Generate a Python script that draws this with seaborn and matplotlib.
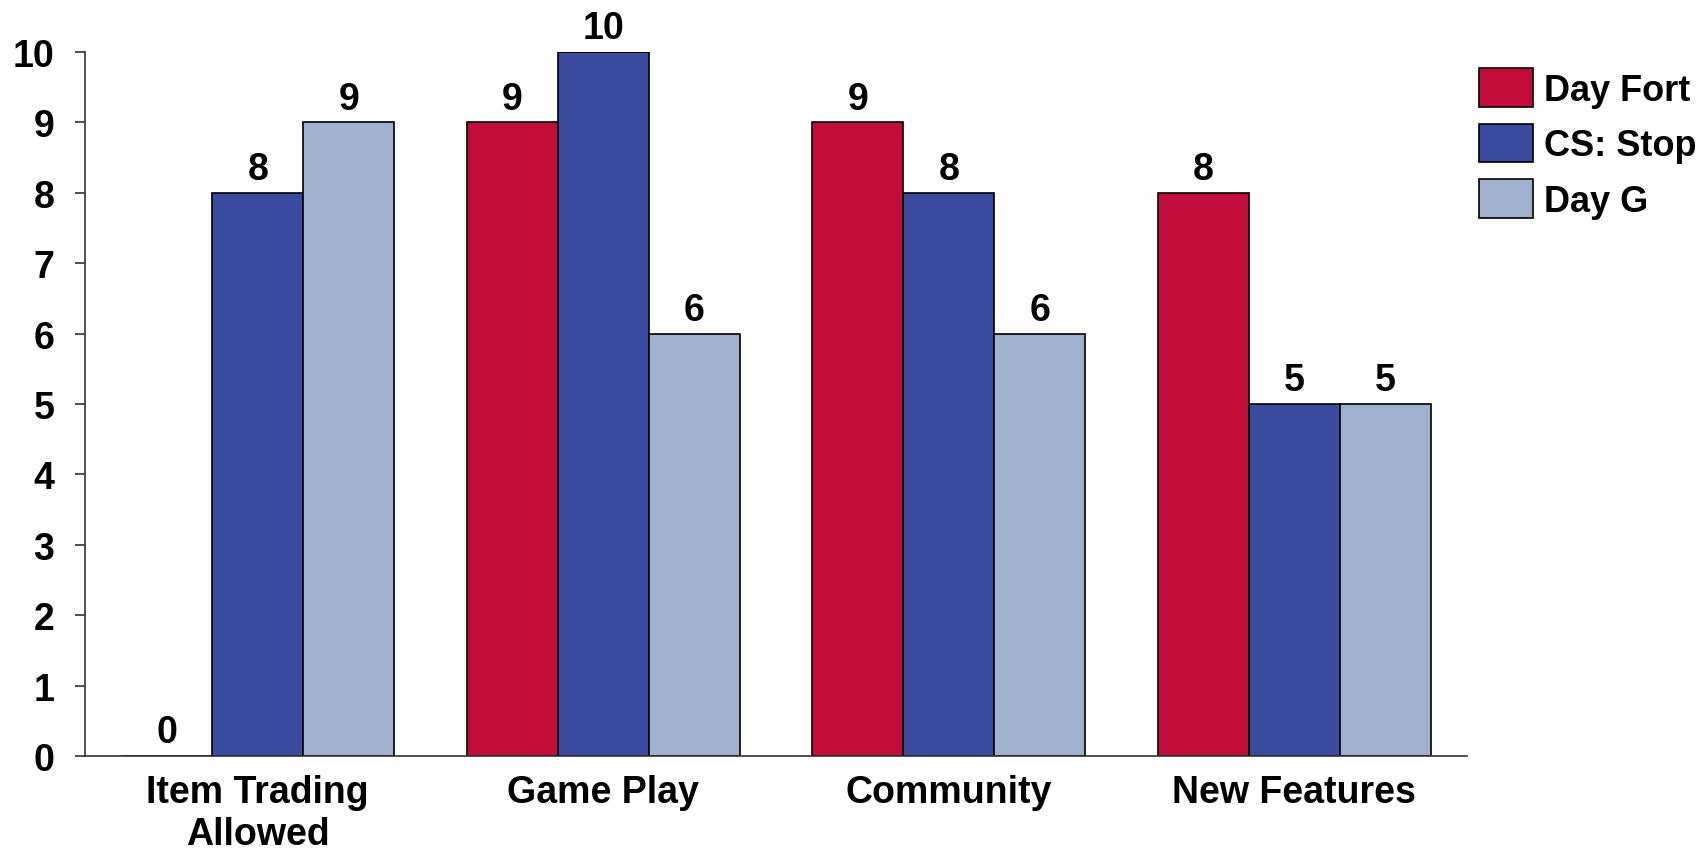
import matplotlib
matplotlib.use("Agg")
import matplotlib.pyplot as plt
import seaborn as sns
import pandas as pd

categories = ["Item Trading\nAllowed", "Game Play", "Community", "New Features"]
series_names = ["Day Fort", "CS: Stop", "Day G"]
day_fort = [0, 9, 9, 8]
cs_stop = [8, 10, 8, 5]
day_g = [9, 6, 6, 5]
colors = ["#C20D3B", "#3B4BA0", "#A0B1CE"]
y_ticks = list(range(0, 11))

rows = []
for name, vals in zip(series_names, [day_fort, cs_stop, day_g]):
    for c, v in zip(categories, vals):
        rows.append({"category": c, "series": name, "value": v})
df = pd.DataFrame(rows)

sns.set_theme(style="white")
plt.rcParams["font.family"] = ["Liberation Sans", "DejaVu Sans"]
plt.rcParams["font.weight"] = "bold"
plt.rcParams["text.color"] = "black"
plt.rcParams["xtick.color"] = "black"
plt.rcParams["ytick.color"] = "black"

FS = 27

fig = plt.figure(figsize=(17.04, 8.53), dpi=100)
ax = fig.add_axes([0.0499, 0.1125, 0.861 - 0.0499, 0.9379 - 0.1125])

sns.barplot(data=df, x="category", y="value", hue="series", hue_order=series_names,
            order=categories, palette=colors, width=0.79, edgecolor="black",
            linewidth=1.2, saturation=1, ax=ax)

for cont in ax.containers:
    ax.bar_label(cont, fmt="%d", padding=4, fontsize=FS, fontweight="bold", color="black")

ax.set_ylim(0, 10)
ax.set_xlim(-0.5, len(categories) - 0.5)
ax.set_yticks(y_ticks)
ax.set_yticklabels([str(t) for t in y_ticks], fontsize=FS, fontweight="bold", color="black")
ax.tick_params(axis="y", which="major", direction="out", length=7, width=1.2,
               color="#333333", pad=15, left=True, labelcolor="black")
ax.tick_params(axis="x", length=0, pad=13, labelsize=FS, labelcolor="black")
for lab in ax.get_xticklabels():
    lab.set_fontweight("bold")
    lab.set_linespacing(1.22)
ax.set_xlabel("")
ax.set_ylabel("")
for s in ["top", "right"]:
    ax.spines[s].set_visible(False)
for s in ["left", "bottom"]:
    ax.spines[s].set_color("#333333")
    ax.spines[s].set_linewidth(1.2)

ax.legend_.remove()
handles, labels = ax.get_legend_handles_labels()
leg = fig.legend(handles, labels, loc="upper left", bbox_to_anchor=(0.868, 0.919),
                 frameon=False, borderpad=0, borderaxespad=0,
                 handlelength=1.48, handleheight=1.27, labelspacing=0.45,
                 handletextpad=0.33, prop={"weight": "bold", "size": 26})
for t in leg.get_texts():
    t.set_color("black")
for p in leg.get_patches():
    p.set_edgecolor("black")
    p.set_linewidth(1.2)

fig.savefig("out.png", dpi=100)
